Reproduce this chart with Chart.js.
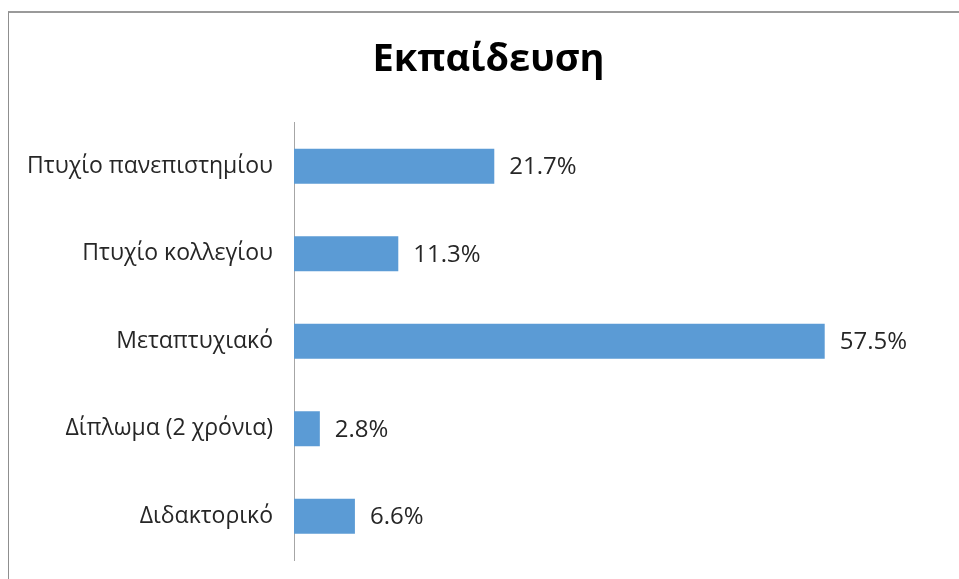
<!DOCTYPE html>
<html>
<head>
<meta charset="utf-8">
<script src="https://cdn.jsdelivr.net/npm/chart.js@4/dist/chart.umd.min.js"></script>
<style>
  html, body { margin: 0; padding: 0; background: #fff; }
  #wrap { position: relative; width: 959px; height: 579px; overflow: hidden; }
  #frame { position: absolute; left: 8px; top: 11px; width: 1000px; height: 600px;
           border-left: 1px solid #8f8f8f; border-top: 2px solid #9a9a9a; }
  #chart { position: absolute; left: 0; top: 0; }
</style>
</head>
<body>
<div id="wrap">
  <div id="frame"></div>
  <!-- chart frame runs past the right edge of the picture, so the canvas does too -->
  <canvas id="chart" width="977" height="579"></canvas>
</div>
<script>
var TITLE = 'Εκπαίδευση';
var categories = ['Πτυχίο πανεπιστημίου', 'Πτυχίο κολλεγίου', 'Μεταπτυχιακό', 'Δίπλωμα (2 χρόνια)', 'Διδακτορικό'];
var percents = [21.7, 11.3, 57.5, 2.8, 6.6];

var BAR_COLOR = '#5b9bd5';
var TEXT_COLOR = '#262626';
var FONT = "'Open Sans', 'Noto Sans', sans-serif";

// draws "21.7%" style labels just past the end of each bar
var valueLabels = {
  id: 'valueLabels',
  afterDatasetsDraw: function(chart) {
    var ctx = chart.ctx;
    var meta = chart.getDatasetMeta(0);
    ctx.save();
    ctx.font = '24px ' + FONT;
    ctx.fillStyle = TEXT_COLOR;
    ctx.textAlign = 'left';
    ctx.textBaseline = 'middle';
    meta.data.forEach(function(bar, i) {
      ctx.fillText(percents[i].toFixed(1) + '%', bar.x + 15, bar.y + 1);
    });
    ctx.restore();
  }
};

new Chart(document.getElementById('chart'), {
  type: 'bar',
  data: {
    labels: categories,
    datasets: [{
      data: percents,
      backgroundColor: BAR_COLOR,
      borderWidth: 0,
      barPercentage: 0.4,
      categoryPercentage: 1.0
    }]
  },
  options: {
    indexAxis: 'y',
    responsive: false,
    animation: false,
    layout: { padding: { left: 0, right: 0, top: 0, bottom: 19 } },
    plugins: {
      legend: { display: false },
      tooltip: { enabled: false },
      title: {
        display: true,
        text: TITLE,
        color: '#000',
        font: { family: FONT, size: 38, weight: 'bold' },
        padding: { top: 37, bottom: 40 }
      }
    },
    scales: {
      x: { display: false, min: 0, max: 74 },
      y: {
        grid: { display: false, drawTicks: false },
        border: { display: true, color: '#a6a6a6', width: 1 },
        ticks: { color: TEXT_COLOR, padding: 21, font: { family: FONT, size: 23 } },
        afterFit: function(scale) {
          scale.width = 294;
          scale.paddingTop = 0;
          scale.paddingBottom = 0;
        }
      }
    }
  },
  plugins: [valueLabels]
});
</script>
</body>
</html>
